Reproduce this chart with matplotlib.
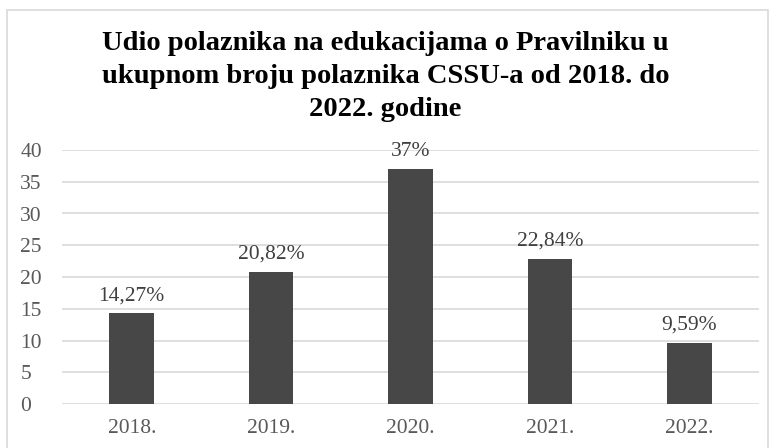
import matplotlib.pyplot as plt
from matplotlib.patches import Rectangle

years = ["2018.", "2019.", "2020.", "2021.", "2022."]
values = [14.27, 20.82, 37, 22.84, 9.59]
labels = ["14,27%", "20,82%", "37%", "22,84%", "9,59%"]

plt.rcParams['font.family'] = ['Liberation Serif', 'DejaVu Serif']

fig = plt.figure(figsize=(7.71, 4.48), dpi=100)
ax = fig.add_axes([62 / 771, 1 - 404 / 448, 697 / 771, 254 / 448])

x = range(len(years))
ax.bar(x, values, width=0.32, color='#474747', zorder=3)

# value labels above bars
for i, v in enumerate(values):
    ax.annotate(labels[i], (i, v), xytext=(0, 6), textcoords='offset points',
                ha='center', va='bottom', fontsize=15.5, color='#404040')

ax.set_xlim(-0.5, len(years) - 0.5)
ax.set_ylim(0, 40)
ax.set_yticks(range(0, 41, 5))
ax.set_xticks(list(x))
ax.set_xticklabels(years)
ax.tick_params(axis='both', length=0, labelsize=15.5, labelcolor='#595959')
ax.tick_params(axis='y', pad=30)
ax.tick_params(axis='x', pad=11)
for lbl in ax.get_yticklabels():
    lbl.set_horizontalalignment('left')
ax.grid(axis='y', color='#d9d9d9', linewidth=1.2, zorder=0)
for s in ax.spines.values():
    s.set_visible(False)

fig.text(0.5, 1 - 31 / 448, "Udio polaznika na edukacijama o Pravilniku u\n"
         "ukupnom broju polaznika CSSU-a od 2018. do\n2022. godine",
         ha='center', va='top', fontsize=20.5, fontweight='bold', color='black',
         linespacing=1.42)

# outer chart border
fig.patches.append(Rectangle((7 / 771, -0.1), 761 / 771, 1.1 - 10 / 448,
                             transform=fig.transFigure, fill=False,
                             edgecolor='#d9d9d9', linewidth=1.2))

fig.savefig("out.png", dpi=100)
